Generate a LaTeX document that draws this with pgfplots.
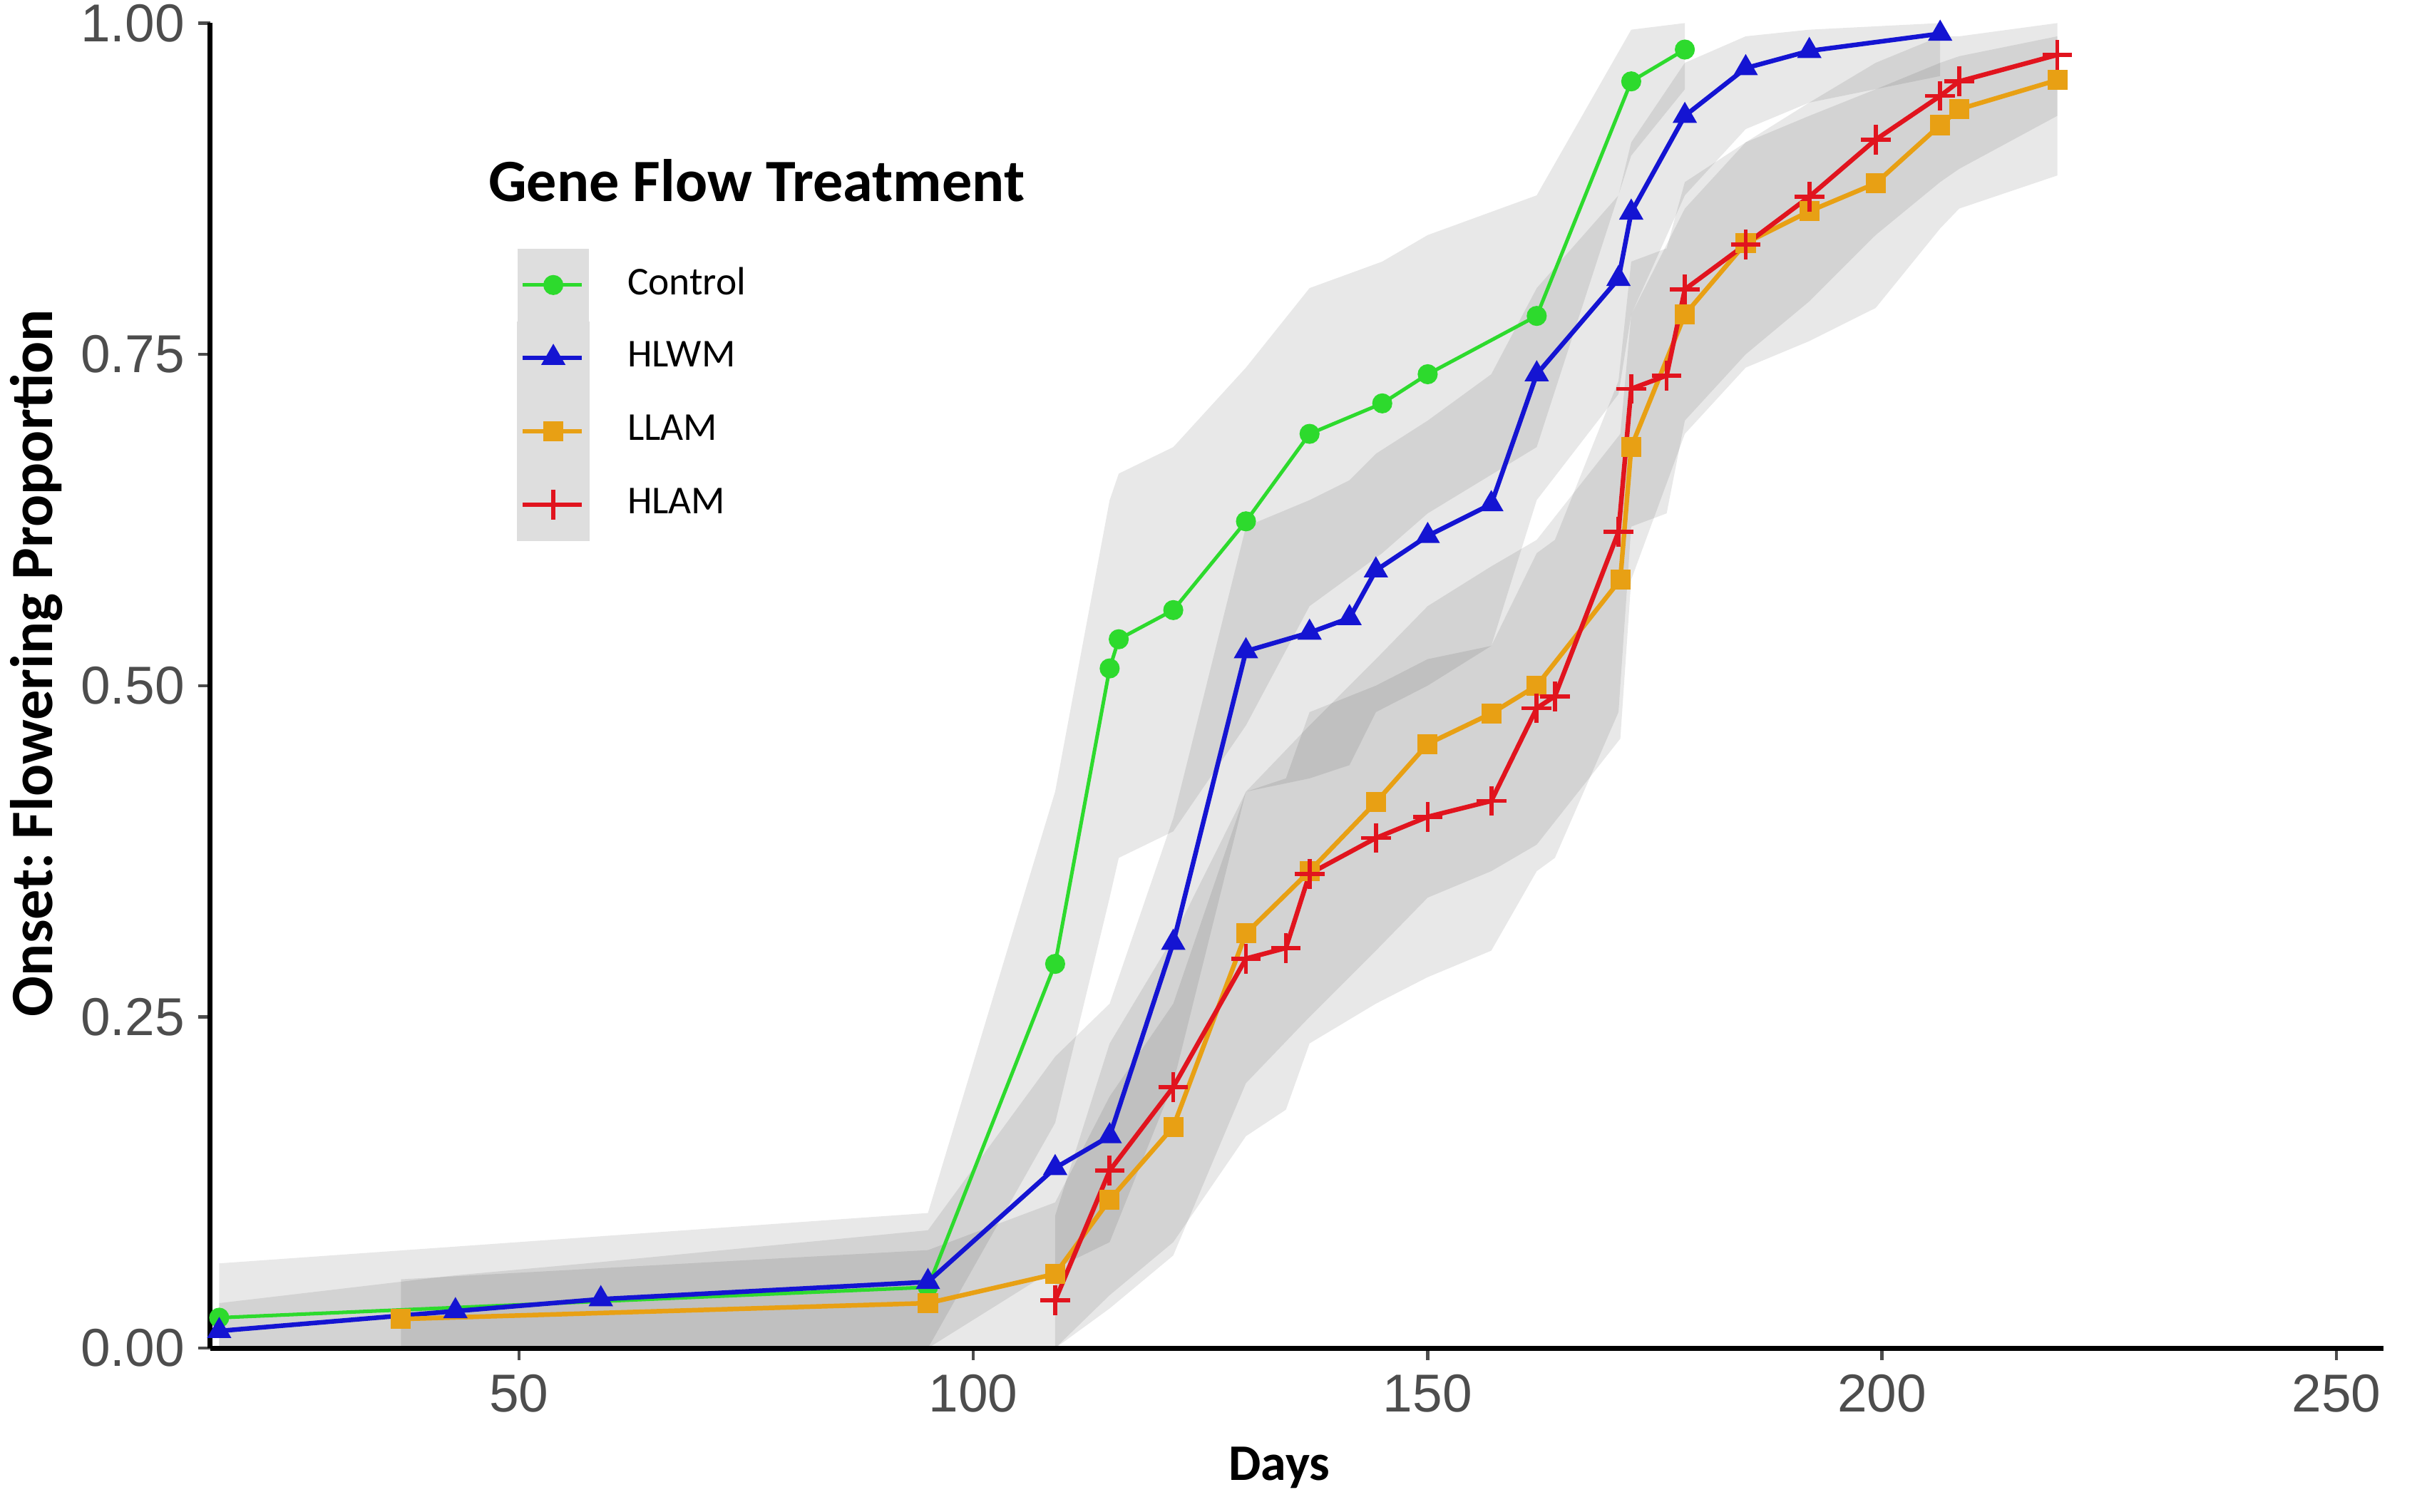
\documentclass[border=0pt]{standalone}
\usepackage{pgfplots}
\pgfplotsset{compat=1.18}
\usepackage{pgfplotstable}
\usepgfplotslibrary{fillbetween}
\usepackage{fontspec}
\setmainfont{Liberation Sans}
\newfontfamily\carlito{Carlito}
\definecolor{cgreen}{RGB}{45,218,45}
\definecolor{cblue}{RGB}{20,20,210}
\definecolor{corange}{RGB}{232,160,20}
\definecolor{cred}{RGB}{225,20,30}
\definecolor{tickgrey}{RGB}{77,77,77}

\pgfplotstableread{
d v lo hi
17 0.023 0 0.064
95 0.046 0 0.102
109 0.29 0.17 0.42
115 0.513 0.34 0.64
116 0.535 0.37 0.66
122 0.557 0.39 0.68
130 0.624 0.47 0.74
137 0.69 0.56 0.80
145 0.713 0.60 0.82
150 0.735 0.63 0.84
162 0.779 0.68 0.87
172.4 0.956 0.90 0.995
178.3 0.98 0.95 1.0
}\ctrl

\pgfplotstableread{
d v lo hi
17 0.013 0 0.034
43 0.028 0 0.055
59 0.037 0 0.065
95 0.05 0 0.089
109 0.136 0.06 0.22
115 0.16 0.08 0.26
122 0.306 0.20 0.40
130 0.526 0.42 0.62
137 0.54 0.43 0.64
141.4 0.551 0.44 0.655
144.3 0.587 0.48 0.675
150 0.613 0.50 0.70
157 0.637 0.53 0.735
162 0.735 0.64 0.80
171 0.807 0.72 0.87
172.4 0.857 0.78 0.91
178.3 0.93 0.87 0.97
185 0.966 0.92 0.99
192 0.979 0.94 0.995
206.4 0.992 0.96 1.0
}\hlwm

\pgfplotstableread{
d v lo hi
37 0.022 0 0.052
95 0.034 0 0.074
109 0.056 0 0.11
115 0.112 0.03 0.19
122 0.167 0.07 0.26
130 0.313 0.20 0.42
137 0.36 0.25 0.47
144.3 0.412 0.30 0.52
150 0.456 0.34 0.56
157 0.479 0.36 0.59
162 0.5 0.38 0.61
171.2 0.58 0.46 0.69
172.4 0.68 0.58 0.78
178.3 0.78 0.69 0.86
185 0.834 0.74 0.91
192 0.858 0.76 0.93
199.3 0.879 0.785 0.95
206.4 0.923 0.845 0.97
208.5 0.935 0.86 0.975
219.3 0.957 0.885 0.99
}\llam

\pgfplotstableread{
d v lo hi
109 0.036 0 0.10
115 0.134 0.04 0.23
122 0.197 0.08 0.31
130 0.294 0.16 0.42
134.4 0.302 0.18 0.43
137 0.358 0.23 0.48
144.3 0.385 0.26 0.50
150 0.401 0.28 0.52
157 0.413 0.30 0.53
162 0.483 0.36 0.60
164 0.492 0.37 0.61
171 0.616 0.48 0.73
172.4 0.724 0.62 0.82
176.3 0.734 0.63 0.83
178.3 0.799 0.70 0.88
185 0.833 0.75 0.91
192 0.869 0.79 0.94
199.3 0.912 0.84 0.97
206.4 0.945 0.88 0.99
208.5 0.956 0.89 0.99
219.3 0.976 0.93 1.0
}\hlam

\begin{document}
\begin{tikzpicture}
\begin{axis}[
  scale only axis,
  width=423.6pt, height=258.3pt,
  xmin=16, xmax=255.2, ymin=0, ymax=1,
  axis lines=left,
  axis line style={-, line width=1pt, black},
  clip=false,
  xtick={50,100,150,200,250},
  ytick={0,0.25,0.5,0.75,1},
  yticklabels={0.00,0.25,0.50,0.75,1.00},
  tick align=outside,
  major tick length=2.3pt,
  tick style={line width=0.6pt, tickgrey},
  /pgf/number format/assume math mode=true,
  ticklabel style={font=\fontsize{10.4}{12}\selectfont, text=tickgrey, inner sep=0pt},
  xticklabel style={yshift=-2.6pt},
  yticklabel style={xshift=-2.5pt},
  xlabel={Days},
  ylabel={Onset:\ Flowering Proportion},
  xlabel style={font=\carlito\bfseries\fontsize{10}{12}\selectfont, at={(axis description cs:0.492,-0.0999)}, anchor=base, inner sep=0pt},
  ylabel style={font=\carlito\bfseries\fontsize{11.7}{14}\selectfont, at={(axis description cs:-0.0726,0.517)}, anchor=base, rotate=0, inner sep=0pt},
  legend image code/.code={
    \fill[black!13] (0pt,-6.7pt) rectangle (13.2pt,6.7pt);
    \draw[mark repeat=2, mark phase=2] plot coordinates {(0.6pt,0pt) (6.6pt,0pt) (12.2pt,0pt)};
  },
  legend style={at={(axis cs:49.68,0.8304)}, anchor=north west, draw=none, fill=none,
    inner sep=0pt, row sep=0pt, column sep=7.4pt,
    nodes={inner sep=0pt}, font=\carlito\fontsize{7.7}{9}\selectfont},
  legend cell align=left,
]
% bands
\addplot[draw=none, mark=none, name path=cU, forget plot] table[x=d,y=hi]{\ctrl};
\addplot[draw=none, mark=none, name path=cL, forget plot] table[x=d,y=lo]{\ctrl};
\addplot[fill=black, fill opacity=0.09, draw=none, forget plot] fill between[of=cU and cL];
\addplot[draw=none, mark=none, name path=hU, forget plot] table[x=d,y=hi]{\hlwm};
\addplot[draw=none, mark=none, name path=hL, forget plot] table[x=d,y=lo]{\hlwm};
\addplot[fill=black, fill opacity=0.09, draw=none, forget plot] fill between[of=hU and hL];
\addplot[draw=none, mark=none, name path=lU, forget plot] table[x=d,y=hi]{\llam};
\addplot[draw=none, mark=none, name path=lL, forget plot] table[x=d,y=lo]{\llam};
\addplot[fill=black, fill opacity=0.09, draw=none, forget plot] fill between[of=lU and lL];
\addplot[draw=none, mark=none, name path=rU, forget plot] table[x=d,y=hi]{\hlam};
\addplot[draw=none, mark=none, name path=rL, forget plot] table[x=d,y=lo]{\hlam};
\addplot[fill=black, fill opacity=0.09, draw=none, forget plot] fill between[of=rU and rL];
% lines
\addplot[cgreen, line width=0.7pt, mark=*, mark size=1.6pt, mark options={solid, fill=cgreen, draw=cgreen}] table[x=d,y=v]{\ctrl};
\addplot[cblue, line width=0.9pt, mark=triangle*, mark size=2.45pt, mark options={solid, fill=cblue, draw=cblue, line width=0.3pt}] table[x=d,y=v]{\hlwm};
\addplot[corange, line width=0.9pt, mark=square*, mark size=1.8pt, mark options={solid, fill=corange, draw=corange, line width=0.3pt}] table[x=d,y=v]{\llam};
\addplot[cred, line width=0.9pt, mark=+, mark size=2.9pt, mark options={solid, line width=0.8pt}] table[x=d,y=v]{\hlam};
\legend{Control,HLWM,LLAM,HLAM}
\node[anchor=base west, inner sep=0pt, font=\carlito\bfseries\fontsize{11.7}{14}\selectfont] at (axis cs:46.54,0.8653) {Gene Flow Treatment};
\coordinate (SW) at (rel axis cs:0,0);
\coordinate (NE) at (rel axis cs:1,1);
\end{axis}
\pgfresetboundingbox
\path ([xshift=-40.95pt,yshift=-31.8pt]SW) rectangle ([xshift=5.55pt,yshift=4.5pt]NE);
\end{tikzpicture}
\end{document}
